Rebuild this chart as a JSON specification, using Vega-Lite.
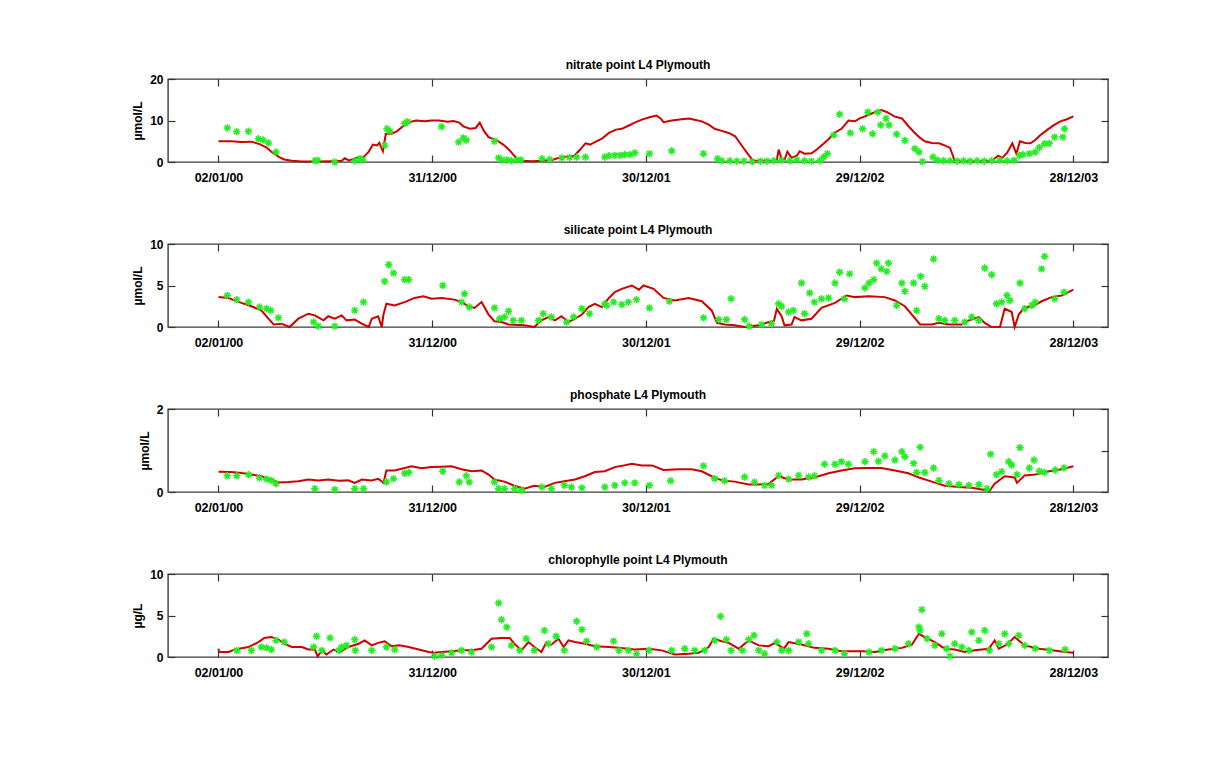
{
  "$schema": "https://vega.github.io/schema/vega-lite/v6.json",
  "background": "white",
  "padding": {"left": 130, "top": 58, "right": 0, "bottom": 0},
  "spacing": 38,
  "datasets": {
    "nitrate_model": [
      {"date":"2000-01-02","value":5.0},{"date":"2000-01-24","value":5.0},{"date":"2000-02-10","value":4.8},{"date":"2000-02-27","value":4.9},{"date":"2000-03-12","value":4.3},{"date":"2000-03-24","value":3.5},{"date":"2000-04-01","value":2.5},{"date":"2000-04-13","value":1.3},{"date":"2000-04-23","value":0.6},{"date":"2000-05-06","value":0.3},{"date":"2000-05-23","value":0.1},{"date":"2000-06-17","value":0.1},{"date":"2000-07-13","value":0.2},{"date":"2000-07-30","value":0.3},{"date":"2000-08-04","value":0.9},{"date":"2000-08-11","value":0.4},{"date":"2000-08-25","value":1.0},{"date":"2000-09-06","value":1.3},{"date":"2000-09-14","value":2.5},{"date":"2000-09-21","value":4.2},{"date":"2000-09-28","value":4.0},{"date":"2000-10-02","value":4.6},{"date":"2000-10-08","value":2.6},{"date":"2000-10-13","value":6.8},{"date":"2000-10-23","value":6.8},{"date":"2000-11-02","value":7.5},{"date":"2000-11-11","value":8.6},{"date":"2000-11-21","value":9.6},{"date":"2000-12-04","value":10.0},{"date":"2000-12-18","value":9.8},{"date":"2000-12-30","value":10.0},{"date":"2001-01-12","value":10.0},{"date":"2001-01-26","value":9.7},{"date":"2001-02-05","value":9.9},{"date":"2001-02-15","value":9.5},{"date":"2001-02-22","value":8.6},{"date":"2001-03-05","value":8.0},{"date":"2001-03-15","value":8.2},{"date":"2001-03-22","value":9.5},{"date":"2001-03-29","value":7.5},{"date":"2001-04-06","value":6.0},{"date":"2001-04-20","value":5.2},{"date":"2001-05-01","value":4.2},{"date":"2001-05-12","value":2.8},{"date":"2001-05-24","value":0.8},{"date":"2001-06-02","value":0.3},{"date":"2001-06-19","value":0.2},{"date":"2001-07-06","value":0.3},{"date":"2001-07-23","value":0.5},{"date":"2001-08-04","value":1.0},{"date":"2001-08-17","value":1.2},{"date":"2001-08-30","value":1.5},{"date":"2001-09-09","value":3.0},{"date":"2001-09-18","value":4.5},{"date":"2001-09-26","value":4.2},{"date":"2001-10-04","value":4.8},{"date":"2001-10-16","value":5.6},{"date":"2001-10-28","value":7.0},{"date":"2001-11-09","value":7.8},{"date":"2001-11-19","value":8.0},{"date":"2001-12-01","value":8.8},{"date":"2001-12-11","value":9.5},{"date":"2001-12-23","value":10.2},{"date":"2002-01-05","value":10.8},{"date":"2002-01-17","value":11.2},{"date":"2002-01-24","value":10.5},{"date":"2002-01-29","value":9.6},{"date":"2002-02-12","value":10.0},{"date":"2002-03-01","value":10.3},{"date":"2002-03-13","value":10.5},{"date":"2002-03-23","value":10.2},{"date":"2002-04-04","value":9.8},{"date":"2002-04-16","value":9.0},{"date":"2002-04-26","value":8.0},{"date":"2002-05-08","value":7.5},{"date":"2002-05-20","value":7.0},{"date":"2002-05-31","value":6.2},{"date":"2002-06-12","value":3.8},{"date":"2002-06-24","value":1.5},{"date":"2002-07-01","value":0.3},{"date":"2002-07-16","value":0.3},{"date":"2002-08-01","value":0.3},{"date":"2002-08-10","value":0.5},{"date":"2002-08-13","value":3.0},{"date":"2002-08-18","value":0.8},{"date":"2002-08-23","value":0.5},{"date":"2002-08-28","value":2.5},{"date":"2002-09-04","value":1.0},{"date":"2002-09-13","value":1.5},{"date":"2002-09-18","value":2.6},{"date":"2002-09-26","value":2.0},{"date":"2002-10-08","value":2.1},{"date":"2002-10-17","value":3.0},{"date":"2002-10-25","value":4.0},{"date":"2002-11-06","value":5.5},{"date":"2002-11-16","value":7.0},{"date":"2002-11-28","value":8.0},{"date":"2002-12-10","value":10.0},{"date":"2002-12-21","value":9.8},{"date":"2002-12-29","value":10.5},{"date":"2003-01-07","value":11.0},{"date":"2003-01-16","value":11.5},{"date":"2003-01-24","value":12.0},{"date":"2003-02-04","value":12.5},{"date":"2003-02-14","value":12.0},{"date":"2003-02-26","value":11.0},{"date":"2003-03-11","value":10.5},{"date":"2003-03-23","value":8.5},{"date":"2003-04-02","value":7.0},{"date":"2003-04-11","value":5.8},{"date":"2003-04-19","value":5.0},{"date":"2003-05-01","value":4.6},{"date":"2003-05-13","value":4.5},{"date":"2003-05-23","value":4.0},{"date":"2003-06-01","value":3.4},{"date":"2003-06-09","value":0.3},{"date":"2003-06-21","value":0.3},{"date":"2003-07-08","value":0.2},{"date":"2003-07-25","value":0.3},{"date":"2003-08-11","value":0.3},{"date":"2003-08-22","value":1.5},{"date":"2003-08-29","value":1.0},{"date":"2003-09-06","value":2.2},{"date":"2003-09-15","value":4.5},{"date":"2003-09-22","value":2.0},{"date":"2003-09-28","value":5.0},{"date":"2003-10-07","value":4.6},{"date":"2003-10-16","value":4.5},{"date":"2003-10-24","value":5.3},{"date":"2003-11-02","value":6.5},{"date":"2003-11-14","value":7.8},{"date":"2003-11-26","value":9.0},{"date":"2003-12-06","value":9.8},{"date":"2003-12-17","value":10.3},{"date":"2003-12-28","value":11.0}
    ],
    "nitrate_obs": [
      {"date":"2000-01-17","value":8.2},{"date":"2000-02-02","value":7.3},{"date":"2000-02-22","value":7.4},{"date":"2000-03-10","value":5.6},{"date":"2000-03-18","value":5.3},{"date":"2000-03-27","value":4.6},{"date":"2000-04-09","value":2.4},{"date":"2000-06-14","value":0.3},{"date":"2000-06-19","value":0.4},{"date":"2000-07-18","value":0.0},{"date":"2000-08-21","value":0.3},{"date":"2000-08-30","value":0.8},{"date":"2000-09-04","value":0.5},{"date":"2000-10-11","value":4.0},{"date":"2000-10-15","value":8.0},{"date":"2000-10-20","value":7.4},{"date":"2000-11-14","value":9.3},{"date":"2000-11-19","value":9.7},{"date":"2001-01-16","value":8.5},{"date":"2001-02-14","value":4.8},{"date":"2001-02-22","value":5.8},{"date":"2001-02-27","value":5.3},{"date":"2001-04-16","value":5.0},{"date":"2001-04-23","value":1.0},{"date":"2001-04-28","value":0.5},{"date":"2001-05-07","value":0.5},{"date":"2001-05-15","value":0.3},{"date":"2001-05-24","value":0.5},{"date":"2001-05-31","value":0.5},{"date":"2001-07-06","value":0.8},{"date":"2001-07-19","value":0.6},{"date":"2001-08-09","value":1.0},{"date":"2001-08-22","value":1.1},{"date":"2001-09-03","value":1.2},{"date":"2001-09-18","value":1.2},{"date":"2001-10-21","value":1.2},{"date":"2001-10-28","value":1.5},{"date":"2001-11-07","value":1.6},{"date":"2001-11-16","value":1.6},{"date":"2001-11-24","value":1.8},{"date":"2001-12-03","value":1.8},{"date":"2001-12-11","value":2.2},{"date":"2002-01-05","value":2.0},{"date":"2002-02-12","value":2.7},{"date":"2002-04-07","value":2.0},{"date":"2002-05-01","value":0.8},{"date":"2002-05-08","value":0.3},{"date":"2002-05-22","value":0.3},{"date":"2002-06-03","value":0.2},{"date":"2002-06-15","value":0.2},{"date":"2002-06-29","value":0.1},{"date":"2002-07-13","value":0.2},{"date":"2002-07-24","value":0.2},{"date":"2002-08-05","value":0.3},{"date":"2002-08-18","value":0.4},{"date":"2002-09-01","value":0.3},{"date":"2002-09-13","value":0.5},{"date":"2002-09-26","value":0.3},{"date":"2002-10-08","value":0.2},{"date":"2002-10-22","value":0.3},{"date":"2002-10-29","value":1.2},{"date":"2002-11-04","value":2.0},{"date":"2002-11-15","value":6.5},{"date":"2002-11-25","value":11.5},{"date":"2002-12-13","value":7.0},{"date":"2003-01-03","value":8.0},{"date":"2003-01-12","value":12.0},{"date":"2003-01-20","value":6.8},{"date":"2003-01-29","value":12.0},{"date":"2003-02-03","value":8.9},{"date":"2003-02-12","value":10.5},{"date":"2003-02-17","value":8.9},{"date":"2003-03-02","value":6.7},{"date":"2003-03-16","value":5.2},{"date":"2003-04-02","value":3.2},{"date":"2003-04-09","value":2.4},{"date":"2003-04-15","value":0.1},{"date":"2003-05-03","value":1.2},{"date":"2003-05-11","value":0.4},{"date":"2003-05-21","value":0.3},{"date":"2003-06-01","value":0.3},{"date":"2003-06-13","value":0.2},{"date":"2003-06-24","value":0.3},{"date":"2003-07-05","value":0.2},{"date":"2003-07-17","value":0.3},{"date":"2003-07-29","value":0.2},{"date":"2003-08-11","value":0.3},{"date":"2003-08-25","value":0.4},{"date":"2003-09-06","value":0.3},{"date":"2003-09-18","value":0.4},{"date":"2003-09-27","value":1.6},{"date":"2003-10-03","value":1.8},{"date":"2003-10-14","value":2.0},{"date":"2003-10-24","value":2.4},{"date":"2003-10-31","value":3.5},{"date":"2003-11-09","value":4.4},{"date":"2003-11-17","value":4.5},{"date":"2003-11-26","value":6.0},{"date":"2003-12-10","value":6.0},{"date":"2003-12-13","value":8.0}
    ],
    "silicate_model": [
      {"date":"2000-01-02","value":3.6},{"date":"2000-01-19","value":3.5},{"date":"2000-02-10","value":2.9},{"date":"2000-02-27","value":2.5},{"date":"2000-03-15","value":2.0},{"date":"2000-03-27","value":1.0},{"date":"2000-04-05","value":0.3},{"date":"2000-04-18","value":0.4},{"date":"2000-05-02","value":0.0},{"date":"2000-05-17","value":1.0},{"date":"2000-06-03","value":1.6},{"date":"2000-06-14","value":1.4},{"date":"2000-06-29","value":0.8},{"date":"2000-07-07","value":1.3},{"date":"2000-07-18","value":1.0},{"date":"2000-07-30","value":1.4},{"date":"2000-08-07","value":0.8},{"date":"2000-08-21","value":0.9},{"date":"2000-09-02","value":0.4},{"date":"2000-09-14","value":0.0},{"date":"2000-09-19","value":1.0},{"date":"2000-09-30","value":1.3},{"date":"2000-10-06","value":0.0},{"date":"2000-10-09","value":1.5},{"date":"2000-10-14","value":2.8},{"date":"2000-10-28","value":2.6},{"date":"2000-11-14","value":3.0},{"date":"2000-12-01","value":3.5},{"date":"2000-12-16","value":3.7},{"date":"2000-12-30","value":3.4},{"date":"2001-01-16","value":3.5},{"date":"2001-02-07","value":3.3},{"date":"2001-02-19","value":3.0},{"date":"2001-03-03","value":2.5},{"date":"2001-03-13","value":2.3},{"date":"2001-03-25","value":3.0},{"date":"2001-04-06","value":1.5},{"date":"2001-04-16","value":0.7},{"date":"2001-04-28","value":0.6},{"date":"2001-05-10","value":0.3},{"date":"2001-06-06","value":0.2},{"date":"2001-06-23","value":0.0},{"date":"2001-07-05","value":0.8},{"date":"2001-07-17","value":1.2},{"date":"2001-07-28","value":0.8},{"date":"2001-08-08","value":1.3},{"date":"2001-08-20","value":0.6},{"date":"2001-08-31","value":1.0},{"date":"2001-09-12","value":1.5},{"date":"2001-09-23","value":2.4},{"date":"2001-10-04","value":2.8},{"date":"2001-10-16","value":2.4},{"date":"2001-10-28","value":3.5},{"date":"2001-11-07","value":4.2},{"date":"2001-11-19","value":4.6},{"date":"2001-12-06","value":5.0},{"date":"2001-12-18","value":4.5},{"date":"2001-12-26","value":5.0},{"date":"2002-01-12","value":4.6},{"date":"2002-01-29","value":3.5},{"date":"2002-02-17","value":3.2},{"date":"2002-03-13","value":3.5},{"date":"2002-04-04","value":3.1},{"date":"2002-04-21","value":2.0},{"date":"2002-04-30","value":0.5},{"date":"2002-05-13","value":0.3},{"date":"2002-05-30","value":0.2},{"date":"2002-06-16","value":0.0},{"date":"2002-07-10","value":0.2},{"date":"2002-07-27","value":0.6},{"date":"2002-08-05","value":0.7},{"date":"2002-08-10","value":2.2},{"date":"2002-08-18","value":1.3},{"date":"2002-08-23","value":0.2},{"date":"2002-09-04","value":0.3},{"date":"2002-09-09","value":1.2},{"date":"2002-09-21","value":0.8},{"date":"2002-10-08","value":1.0},{"date":"2002-10-25","value":2.3},{"date":"2002-11-17","value":2.9},{"date":"2002-12-07","value":3.8},{"date":"2002-12-21","value":3.6},{"date":"2003-01-14","value":3.7},{"date":"2003-02-10","value":3.6},{"date":"2003-02-27","value":3.2},{"date":"2003-03-16","value":2.5},{"date":"2003-03-28","value":1.5},{"date":"2003-04-11","value":0.3},{"date":"2003-05-01","value":0.3},{"date":"2003-05-13","value":0.5},{"date":"2003-05-30","value":0.3},{"date":"2003-06-21","value":0.3},{"date":"2003-07-03","value":0.8},{"date":"2003-07-20","value":1.2},{"date":"2003-07-30","value":0.5},{"date":"2003-08-11","value":0.0},{"date":"2003-08-25","value":0.0},{"date":"2003-09-02","value":2.2},{"date":"2003-09-14","value":1.8},{"date":"2003-09-19","value":0.0},{"date":"2003-09-26","value":1.5},{"date":"2003-10-06","value":2.4},{"date":"2003-10-18","value":2.4},{"date":"2003-11-04","value":3.1},{"date":"2003-11-21","value":3.6},{"date":"2003-12-08","value":3.8},{"date":"2003-12-28","value":4.5}
    ],
    "silicate_obs": [
      {"date":"2000-01-17","value":3.8},{"date":"2000-02-02","value":3.3},{"date":"2000-02-22","value":3.0},{"date":"2000-03-12","value":2.4},{"date":"2000-03-24","value":2.2},{"date":"2000-03-31","value":2.0},{"date":"2000-04-13","value":1.1},{"date":"2000-06-12","value":0.6},{"date":"2000-06-20","value":0.1},{"date":"2000-07-18","value":0.1},{"date":"2000-08-21","value":2.0},{"date":"2000-09-05","value":3.0},{"date":"2000-10-11","value":5.5},{"date":"2000-10-18","value":7.5},{"date":"2000-10-26","value":6.5},{"date":"2000-11-14","value":5.7},{"date":"2000-11-21","value":5.7},{"date":"2001-01-18","value":5.0},{"date":"2001-02-19","value":3.0},{"date":"2001-02-24","value":4.0},{"date":"2001-03-04","value":2.4},{"date":"2001-04-16","value":2.3},{"date":"2001-04-25","value":1.0},{"date":"2001-05-03","value":1.2},{"date":"2001-05-10","value":1.9},{"date":"2001-05-18","value":0.8},{"date":"2001-06-01","value":0.8},{"date":"2001-06-30","value":0.8},{"date":"2001-07-08","value":1.6},{"date":"2001-07-22","value":1.2},{"date":"2001-08-17","value":0.6},{"date":"2001-08-29","value":1.2},{"date":"2001-09-12","value":2.2},{"date":"2001-09-25","value":1.6},{"date":"2001-10-21","value":2.8},{"date":"2001-10-24","value":2.6},{"date":"2001-11-05","value":3.0},{"date":"2001-11-19","value":2.7},{"date":"2001-11-30","value":3.0},{"date":"2001-12-14","value":3.3},{"date":"2002-01-05","value":2.3},{"date":"2002-02-08","value":3.1},{"date":"2002-04-07","value":1.1},{"date":"2002-05-03","value":0.9},{"date":"2002-05-16","value":0.9},{"date":"2002-05-24","value":3.4},{"date":"2002-06-16","value":0.9},{"date":"2002-06-24","value":0.1},{"date":"2002-07-15","value":0.3},{"date":"2002-08-01","value":0.4},{"date":"2002-08-13","value":2.8},{"date":"2002-08-18","value":2.5},{"date":"2002-08-30","value":1.8},{"date":"2002-09-07","value":2.0},{"date":"2002-09-21","value":5.3},{"date":"2002-09-26","value":1.6},{"date":"2002-10-05","value":4.1},{"date":"2002-10-13","value":3.0},{"date":"2002-10-25","value":3.4},{"date":"2002-11-06","value":3.5},{"date":"2002-11-17","value":5.3},{"date":"2002-11-25","value":6.6},{"date":"2002-12-03","value":3.4},{"date":"2002-12-12","value":6.4},{"date":"2003-01-07","value":4.7},{"date":"2003-01-14","value":5.3},{"date":"2003-01-22","value":5.7},{"date":"2003-01-27","value":7.7},{"date":"2003-02-04","value":7.0},{"date":"2003-02-13","value":6.7},{"date":"2003-02-16","value":7.7},{"date":"2003-03-02","value":2.6},{"date":"2003-03-11","value":5.3},{"date":"2003-03-16","value":4.3},{"date":"2003-03-31","value":5.3},{"date":"2003-04-05","value":2.0},{"date":"2003-04-12","value":6.1},{"date":"2003-04-19","value":4.9},{"date":"2003-05-04","value":8.2},{"date":"2003-05-13","value":1.0},{"date":"2003-05-23","value":0.8},{"date":"2003-06-09","value":0.8},{"date":"2003-06-26","value":0.6},{"date":"2003-07-08","value":1.2},{"date":"2003-07-20","value":0.8},{"date":"2003-07-30","value":7.1},{"date":"2003-08-11","value":6.3},{"date":"2003-08-19","value":2.8},{"date":"2003-08-28","value":3.0},{"date":"2003-09-06","value":3.8},{"date":"2003-09-11","value":3.2},{"date":"2003-09-28","value":5.3},{"date":"2003-10-06","value":2.2},{"date":"2003-10-18","value":2.6},{"date":"2003-10-24","value":3.0},{"date":"2003-11-04","value":7.0},{"date":"2003-11-09","value":8.5},{"date":"2003-11-26","value":3.4},{"date":"2003-12-12","value":4.2}
    ],
    "phosphate_model": [
      {"date":"2000-01-02","value":0.49},{"date":"2000-01-24","value":0.48},{"date":"2000-02-10","value":0.46},{"date":"2000-02-27","value":0.42},{"date":"2000-03-15","value":0.38},{"date":"2000-04-01","value":0.30},{"date":"2000-04-13","value":0.23},{"date":"2000-04-30","value":0.24},{"date":"2000-05-17","value":0.26},{"date":"2000-06-03","value":0.30},{"date":"2000-06-20","value":0.28},{"date":"2000-07-07","value":0.30},{"date":"2000-07-25","value":0.27},{"date":"2000-08-10","value":0.28},{"date":"2000-08-21","value":0.22},{"date":"2000-09-02","value":0.30},{"date":"2000-09-19","value":0.28},{"date":"2000-09-30","value":0.32},{"date":"2000-10-09","value":0.22},{"date":"2000-10-14","value":0.52},{"date":"2000-10-28","value":0.52},{"date":"2000-11-14","value":0.58},{"date":"2000-11-26","value":0.62},{"date":"2000-12-13","value":0.57},{"date":"2000-12-30","value":0.60},{"date":"2001-01-16","value":0.61},{"date":"2001-02-02","value":0.62},{"date":"2001-02-19","value":0.55},{"date":"2001-03-08","value":0.50},{"date":"2001-03-25","value":0.52},{"date":"2001-04-06","value":0.42},{"date":"2001-04-16","value":0.30},{"date":"2001-05-03","value":0.25},{"date":"2001-05-20","value":0.15},{"date":"2001-06-06","value":0.08},{"date":"2001-06-23","value":0.15},{"date":"2001-07-10","value":0.12},{"date":"2001-07-28","value":0.22},{"date":"2001-08-13","value":0.26},{"date":"2001-08-31","value":0.30},{"date":"2001-09-17","value":0.38},{"date":"2001-10-04","value":0.48},{"date":"2001-10-21","value":0.50},{"date":"2001-11-07","value":0.60},{"date":"2001-11-19","value":0.63},{"date":"2001-12-06","value":0.68},{"date":"2001-12-23","value":0.64},{"date":"2002-01-09","value":0.64},{"date":"2002-01-29","value":0.53},{"date":"2002-02-24","value":0.55},{"date":"2002-03-18","value":0.55},{"date":"2002-04-04","value":0.50},{"date":"2002-04-21","value":0.38},{"date":"2002-05-08","value":0.28},{"date":"2002-05-30","value":0.25},{"date":"2002-06-23","value":0.18},{"date":"2002-07-10","value":0.18},{"date":"2002-07-27","value":0.20},{"date":"2002-08-13","value":0.38},{"date":"2002-08-30","value":0.30},{"date":"2002-09-21","value":0.30},{"date":"2002-10-13","value":0.35},{"date":"2002-11-06","value":0.45},{"date":"2002-11-28","value":0.52},{"date":"2002-12-21","value":0.57},{"date":"2003-01-14","value":0.58},{"date":"2003-02-04","value":0.58},{"date":"2003-02-27","value":0.52},{"date":"2003-03-22","value":0.45},{"date":"2003-04-09","value":0.35},{"date":"2003-05-01","value":0.25},{"date":"2003-05-23","value":0.15},{"date":"2003-06-16","value":0.12},{"date":"2003-07-08","value":0.10},{"date":"2003-07-30","value":0.05},{"date":"2003-08-07","value":0.02},{"date":"2003-08-16","value":0.20},{"date":"2003-09-02","value":0.38},{"date":"2003-09-19","value":0.35},{"date":"2003-09-23","value":0.22},{"date":"2003-10-06","value":0.40},{"date":"2003-10-24","value":0.42},{"date":"2003-11-17","value":0.50},{"date":"2003-12-08","value":0.55},{"date":"2003-12-28","value":0.62}
    ],
    "phosphate_obs": [
      {"date":"2000-01-17","value":0.39},{"date":"2000-02-02","value":0.39},{"date":"2000-02-22","value":0.42},{"date":"2000-03-12","value":0.34},{"date":"2000-03-24","value":0.31},{"date":"2000-04-01","value":0.28},{"date":"2000-04-09","value":0.20},{"date":"2000-06-14","value":0.08},{"date":"2000-07-18","value":0.06},{"date":"2000-08-21","value":0.08},{"date":"2000-09-05","value":0.08},{"date":"2000-10-14","value":0.24},{"date":"2000-10-26","value":0.32},{"date":"2000-11-14","value":0.45},{"date":"2000-11-21","value":0.47},{"date":"2001-01-18","value":0.50},{"date":"2001-02-15","value":0.24},{"date":"2001-02-27","value":0.39},{"date":"2001-03-04","value":0.24},{"date":"2001-04-16","value":0.24},{"date":"2001-04-23","value":0.08},{"date":"2001-05-03","value":0.08},{"date":"2001-05-20","value":0.08},{"date":"2001-06-01","value":0.04},{"date":"2001-07-06","value":0.12},{"date":"2001-07-22","value":0.08},{"date":"2001-08-13","value":0.16},{"date":"2001-08-25","value":0.12},{"date":"2001-09-12","value":0.10},{"date":"2001-10-21","value":0.12},{"date":"2001-11-07","value":0.16},{"date":"2001-11-24","value":0.22},{"date":"2001-12-11","value":0.22},{"date":"2002-01-05","value":0.16},{"date":"2002-02-10","value":0.27},{"date":"2002-04-07","value":0.63},{"date":"2002-04-26","value":0.32},{"date":"2002-05-13","value":0.27},{"date":"2002-06-16","value":0.36},{"date":"2002-07-03","value":0.24},{"date":"2002-07-20","value":0.16},{"date":"2002-08-01","value":0.16},{"date":"2002-08-13","value":0.40},{"date":"2002-08-30","value":0.31},{"date":"2002-09-16","value":0.40},{"date":"2002-10-03","value":0.36},{"date":"2002-10-13","value":0.39},{"date":"2002-10-30","value":0.67},{"date":"2002-11-17","value":0.67},{"date":"2002-11-28","value":0.73},{"date":"2002-12-10","value":0.67},{"date":"2003-01-07","value":0.73},{"date":"2003-01-22","value":0.97},{"date":"2003-01-30","value":0.74},{"date":"2003-02-10","value":0.87},{"date":"2003-02-27","value":0.77},{"date":"2003-03-11","value":0.97},{"date":"2003-03-16","value":0.85},{"date":"2003-03-31","value":0.69},{"date":"2003-04-05","value":0.47},{"date":"2003-04-11","value":1.08},{"date":"2003-04-19","value":0.47},{"date":"2003-05-04","value":0.58},{"date":"2003-05-13","value":0.28},{"date":"2003-05-30","value":0.20},{"date":"2003-06-16","value":0.18},{"date":"2003-07-03","value":0.16},{"date":"2003-07-20","value":0.18},{"date":"2003-08-03","value":0.08},{"date":"2003-08-09","value":0.91},{"date":"2003-08-19","value":0.42},{"date":"2003-08-28","value":0.49},{"date":"2003-09-09","value":0.73},{"date":"2003-09-14","value":0.65},{"date":"2003-09-23","value":0.42},{"date":"2003-09-28","value":1.07},{"date":"2003-10-14","value":0.58},{"date":"2003-10-22","value":0.77},{"date":"2003-10-31","value":0.50},{"date":"2003-11-09","value":0.47},{"date":"2003-11-27","value":0.53},{"date":"2003-12-12","value":0.58}
    ],
    "chl_model": [
      {"date":"2000-01-02","value":1.0},{"date":"2000-01-03","value":0.6},{"date":"2000-01-19","value":0.6},{"date":"2000-01-30","value":0.9},{"date":"2000-02-22","value":1.2},{"date":"2000-03-10","value":1.8},{"date":"2000-03-20","value":2.3},{"date":"2000-04-01","value":2.4},{"date":"2000-04-13","value":2.1},{"date":"2000-04-23","value":1.6},{"date":"2000-05-06","value":1.2},{"date":"2000-05-23","value":1.2},{"date":"2000-06-03","value":0.9},{"date":"2000-06-14","value":0.9},{"date":"2000-06-19","value":0.1},{"date":"2000-06-26","value":0.8},{"date":"2000-07-04","value":0.3},{"date":"2000-07-16","value":0.9},{"date":"2000-07-26","value":0.6},{"date":"2000-08-10","value":1.2},{"date":"2000-08-28","value":1.6},{"date":"2000-09-07","value":2.0},{"date":"2000-09-19","value":1.4},{"date":"2000-09-30","value":1.7},{"date":"2000-10-11","value":1.9},{"date":"2000-10-23","value":1.3},{"date":"2000-11-05","value":1.4},{"date":"2000-11-21","value":1.2},{"date":"2000-12-08","value":0.9},{"date":"2000-12-25","value":0.6},{"date":"2001-01-02","value":0.5},{"date":"2001-01-16","value":0.6},{"date":"2001-02-02","value":0.7},{"date":"2001-02-19","value":0.8},{"date":"2001-03-08","value":0.8},{"date":"2001-03-25","value":1.0},{"date":"2001-04-11","value":2.2},{"date":"2001-04-28","value":2.3},{"date":"2001-05-12","value":2.3},{"date":"2001-05-20","value":1.6},{"date":"2001-06-01","value":0.8},{"date":"2001-06-13","value":1.8},{"date":"2001-06-23","value":1.2},{"date":"2001-07-05","value":0.6},{"date":"2001-07-13","value":1.7},{"date":"2001-07-22","value":1.5},{"date":"2001-08-03","value":2.2},{"date":"2001-08-12","value":1.2},{"date":"2001-08-20","value":2.0},{"date":"2001-08-31","value":1.8},{"date":"2001-09-17","value":1.6},{"date":"2001-10-04","value":1.3},{"date":"2001-10-28","value":1.2},{"date":"2001-11-14","value":1.1},{"date":"2001-12-11","value":0.9},{"date":"2002-01-04","value":1.0},{"date":"2002-01-26","value":0.8},{"date":"2002-02-17","value":0.3},{"date":"2002-03-13","value":0.4},{"date":"2002-03-30","value":0.5},{"date":"2002-04-16","value":1.2},{"date":"2002-04-24","value":2.2},{"date":"2002-05-08","value":1.9},{"date":"2002-05-20","value":1.7},{"date":"2002-06-06","value":1.0},{"date":"2002-06-23","value":2.0},{"date":"2002-07-10","value":1.4},{"date":"2002-07-27","value":1.3},{"date":"2002-08-07","value":1.7},{"date":"2002-08-22","value":1.0},{"date":"2002-08-30","value":1.8},{"date":"2002-09-21","value":1.5},{"date":"2002-10-13","value":1.1},{"date":"2002-11-06","value":1.0},{"date":"2002-11-28","value":0.7},{"date":"2003-01-02","value":0.7},{"date":"2003-01-24","value":0.6},{"date":"2003-02-16","value":0.9},{"date":"2003-03-11","value":1.1},{"date":"2003-03-28","value":1.5},{"date":"2003-04-09","value":2.8},{"date":"2003-04-19","value":2.4},{"date":"2003-05-06","value":1.8},{"date":"2003-05-23","value":1.0},{"date":"2003-06-09","value":0.9},{"date":"2003-06-26","value":0.6},{"date":"2003-07-13","value":0.8},{"date":"2003-08-06","value":1.0},{"date":"2003-08-16","value":2.0},{"date":"2003-08-23","value":1.0},{"date":"2003-09-06","value":1.5},{"date":"2003-09-19","value":2.4},{"date":"2003-10-06","value":1.4},{"date":"2003-10-31","value":1.0},{"date":"2003-11-21","value":0.8},{"date":"2003-12-14","value":0.6},{"date":"2003-12-28","value":0.5}
    ],
    "chl_obs": [
      {"date":"2000-02-02","value":0.8},{"date":"2000-02-27","value":0.8},{"date":"2000-03-15","value":1.2},{"date":"2000-03-24","value":1.1},{"date":"2000-04-01","value":0.9},{"date":"2000-04-09","value":2.0},{"date":"2000-04-23","value":1.8},{"date":"2000-06-12","value":1.2},{"date":"2000-06-17","value":2.5},{"date":"2000-06-26","value":0.8},{"date":"2000-07-10","value":2.3},{"date":"2000-07-25","value":0.8},{"date":"2000-07-30","value":1.2},{"date":"2000-08-07","value":1.4},{"date":"2000-08-21","value":2.1},{"date":"2000-08-22","value":0.8},{"date":"2000-09-19","value":0.8},{"date":"2000-10-14","value":1.2},{"date":"2000-10-28","value":0.9},{"date":"2001-01-04","value":0.1},{"date":"2001-01-16","value":0.2},{"date":"2001-02-02","value":0.5},{"date":"2001-02-19","value":0.8},{"date":"2001-03-08","value":0.6},{"date":"2001-04-11","value":1.2},{"date":"2001-04-23","value":6.5},{"date":"2001-04-28","value":4.5},{"date":"2001-05-07","value":3.6},{"date":"2001-05-15","value":1.4},{"date":"2001-05-29","value":0.8},{"date":"2001-06-09","value":2.2},{"date":"2001-06-23","value":0.8},{"date":"2001-07-10","value":3.2},{"date":"2001-07-17","value":1.6},{"date":"2001-07-30","value":2.5},{"date":"2001-08-13","value":0.8},{"date":"2001-09-03","value":4.3},{"date":"2001-09-12","value":3.3},{"date":"2001-09-20","value":1.9},{"date":"2001-10-07","value":1.2},{"date":"2001-11-05","value":1.9},{"date":"2001-11-14","value":0.8},{"date":"2001-11-30","value":0.8},{"date":"2001-12-14","value":0.4},{"date":"2002-01-04","value":0.8},{"date":"2002-02-12","value":0.8},{"date":"2002-03-06","value":1.0},{"date":"2002-03-23","value":0.8},{"date":"2002-04-09","value":0.8},{"date":"2002-04-26","value":2.0},{"date":"2002-05-06","value":4.9},{"date":"2002-05-16","value":2.1},{"date":"2002-05-24","value":0.8},{"date":"2002-06-12","value":0.8},{"date":"2002-06-23","value":2.1},{"date":"2002-07-02","value":2.6},{"date":"2002-07-10","value":0.8},{"date":"2002-07-20","value":0.4},{"date":"2002-08-10","value":1.8},{"date":"2002-08-18","value":0.8},{"date":"2002-08-30","value":0.8},{"date":"2002-09-16","value":1.8},{"date":"2002-09-30","value":2.8},{"date":"2002-10-03","value":1.6},{"date":"2002-10-25","value":0.8},{"date":"2002-11-17","value":0.8},{"date":"2002-12-03","value":0.4},{"date":"2003-01-14","value":0.6},{"date":"2003-02-04","value":0.8},{"date":"2003-02-27","value":1.0},{"date":"2003-03-22","value":1.6},{"date":"2003-04-09","value":3.6},{"date":"2003-04-11","value":3.2},{"date":"2003-04-14","value":5.7},{"date":"2003-04-23","value":2.2},{"date":"2003-05-06","value":1.4},{"date":"2003-05-18","value":2.8},{"date":"2003-05-26","value":1.0},{"date":"2003-06-01","value":0.1},{"date":"2003-06-09","value":1.6},{"date":"2003-06-21","value":1.2},{"date":"2003-07-03","value":0.8},{"date":"2003-07-08","value":3.0},{"date":"2003-07-20","value":2.0},{"date":"2003-07-30","value":3.2},{"date":"2003-08-07","value":0.8},{"date":"2003-08-23","value":1.6},{"date":"2003-09-02","value":2.8},{"date":"2003-09-09","value":1.6},{"date":"2003-09-26","value":2.6},{"date":"2003-10-06","value":1.4},{"date":"2003-10-24","value":1.0},{"date":"2003-11-17","value":0.8},{"date":"2003-12-14","value":0.9}
    ]
  },
  "vconcat": [
    {
      "width": 940, "height": 83,
      "title": "nitrate point L4 Plymouth",
      "layer": [
        {"data": {"name": "nitrate_model"}, "mark": {"type": "line", "color": "#d00000", "strokeWidth": 2},
         "encoding": {
           "x": {"field": "date", "type": "temporal", "scale": {"type": "utc", "domain": [{"year": 1999, "month": 10, "date": 8, "utc": true}, {"year": 2004, "month": 2, "date": 25, "utc": true}]},
                 "axis": {"orient": "bottom", "values": [{"year": 2000, "month": 1, "date": 2, "utc": true}, {"year": 2000, "month": 12, "date": 31, "utc": true}, {"year": 2001, "month": 12, "date": 30, "utc": true}, {"year": 2002, "month": 12, "date": 29, "utc": true}, {"year": 2003, "month": 12, "date": 28, "utc": true}], "format": "%d/%m/%y", "title": null}},
           "y": {"field": "value", "type": "quantitative", "scale": {"domain": [0, 20]}, "axis": {"orient": "left", "values": [0, 10, 20], "format": "d", "title": "µmol/L"}}
         }},
        {"data": {"name": "nitrate_obs"}, "mark": {"type": "point", "shape": "M0,-1L0,1M-1,0L1,0M-0.7,-0.7L0.7,0.7M-0.7,0.7L0.7,-0.7", "filled": false, "color": "#22ee22", "size": 55, "strokeWidth": 1.5, "opacity": 1},
         "encoding": {
           "x": {"field": "date", "type": "temporal", "axis": {"orient": "top", "labels": false, "title": null, "values": [{"year": 2000, "month": 1, "date": 2, "utc": true}, {"year": 2000, "month": 12, "date": 31, "utc": true}, {"year": 2001, "month": 12, "date": 30, "utc": true}, {"year": 2002, "month": 12, "date": 29, "utc": true}, {"year": 2003, "month": 12, "date": 28, "utc": true}]}},
           "y": {"field": "value", "type": "quantitative", "axis": {"orient": "right", "labels": false, "title": null, "values": [0, 10, 20]}}
         }}
      ],
      "resolve": {"axis": {"x": "independent", "y": "independent"}}
    },
    {
      "width": 940, "height": 83,
      "title": "silicate point L4 Plymouth",
      "layer": [
        {"data": {"name": "silicate_model"}, "mark": {"type": "line", "color": "#d00000", "strokeWidth": 2},
         "encoding": {
           "x": {"field": "date", "type": "temporal", "scale": {"type": "utc", "domain": [{"year": 1999, "month": 10, "date": 8, "utc": true}, {"year": 2004, "month": 2, "date": 25, "utc": true}]},
                 "axis": {"orient": "bottom", "values": [{"year": 2000, "month": 1, "date": 2, "utc": true}, {"year": 2000, "month": 12, "date": 31, "utc": true}, {"year": 2001, "month": 12, "date": 30, "utc": true}, {"year": 2002, "month": 12, "date": 29, "utc": true}, {"year": 2003, "month": 12, "date": 28, "utc": true}], "format": "%d/%m/%y", "title": null}},
           "y": {"field": "value", "type": "quantitative", "scale": {"domain": [0, 10]}, "axis": {"orient": "left", "values": [0, 5, 10], "format": "d", "title": "µmol/L"}}
         }},
        {"data": {"name": "silicate_obs"}, "mark": {"type": "point", "shape": "M0,-1L0,1M-1,0L1,0M-0.7,-0.7L0.7,0.7M-0.7,0.7L0.7,-0.7", "filled": false, "color": "#22ee22", "size": 55, "strokeWidth": 1.5, "opacity": 1},
         "encoding": {
           "x": {"field": "date", "type": "temporal", "axis": {"orient": "top", "labels": false, "title": null, "values": [{"year": 2000, "month": 1, "date": 2, "utc": true}, {"year": 2000, "month": 12, "date": 31, "utc": true}, {"year": 2001, "month": 12, "date": 30, "utc": true}, {"year": 2002, "month": 12, "date": 29, "utc": true}, {"year": 2003, "month": 12, "date": 28, "utc": true}]}},
           "y": {"field": "value", "type": "quantitative", "axis": {"orient": "right", "labels": false, "title": null, "values": [0, 5, 10]}}
         }}
      ],
      "resolve": {"axis": {"x": "independent", "y": "independent"}}
    },
    {
      "width": 940, "height": 83,
      "title": "phosphate L4 Plymouth",
      "layer": [
        {"data": {"name": "phosphate_model"}, "mark": {"type": "line", "color": "#d00000", "strokeWidth": 2},
         "encoding": {
           "x": {"field": "date", "type": "temporal", "scale": {"type": "utc", "domain": [{"year": 1999, "month": 10, "date": 8, "utc": true}, {"year": 2004, "month": 2, "date": 25, "utc": true}]},
                 "axis": {"orient": "bottom", "values": [{"year": 2000, "month": 1, "date": 2, "utc": true}, {"year": 2000, "month": 12, "date": 31, "utc": true}, {"year": 2001, "month": 12, "date": 30, "utc": true}, {"year": 2002, "month": 12, "date": 29, "utc": true}, {"year": 2003, "month": 12, "date": 28, "utc": true}], "format": "%d/%m/%y", "title": null}},
           "y": {"field": "value", "type": "quantitative", "scale": {"domain": [0, 2]}, "axis": {"orient": "left", "values": [0, 1, 2], "format": "d", "title": "µmol/L"}}
         }},
        {"data": {"name": "phosphate_obs"}, "mark": {"type": "point", "shape": "M0,-1L0,1M-1,0L1,0M-0.7,-0.7L0.7,0.7M-0.7,0.7L0.7,-0.7", "filled": false, "color": "#22ee22", "size": 55, "strokeWidth": 1.5, "opacity": 1},
         "encoding": {
           "x": {"field": "date", "type": "temporal", "axis": {"orient": "top", "labels": false, "title": null, "values": [{"year": 2000, "month": 1, "date": 2, "utc": true}, {"year": 2000, "month": 12, "date": 31, "utc": true}, {"year": 2001, "month": 12, "date": 30, "utc": true}, {"year": 2002, "month": 12, "date": 29, "utc": true}, {"year": 2003, "month": 12, "date": 28, "utc": true}]}},
           "y": {"field": "value", "type": "quantitative", "axis": {"orient": "right", "labels": false, "title": null, "values": [0, 1, 2]}}
         }}
      ],
      "resolve": {"axis": {"x": "independent", "y": "independent"}}
    },
    {
      "width": 940, "height": 83,
      "title": "chlorophylle point L4 Plymouth",
      "layer": [
        {"data": {"name": "chl_model"}, "mark": {"type": "line", "color": "#d00000", "strokeWidth": 2},
         "encoding": {
           "x": {"field": "date", "type": "temporal", "scale": {"type": "utc", "domain": [{"year": 1999, "month": 10, "date": 8, "utc": true}, {"year": 2004, "month": 2, "date": 25, "utc": true}]},
                 "axis": {"orient": "bottom", "values": [{"year": 2000, "month": 1, "date": 2, "utc": true}, {"year": 2000, "month": 12, "date": 31, "utc": true}, {"year": 2001, "month": 12, "date": 30, "utc": true}, {"year": 2002, "month": 12, "date": 29, "utc": true}, {"year": 2003, "month": 12, "date": 28, "utc": true}], "format": "%d/%m/%y", "title": null}},
           "y": {"field": "value", "type": "quantitative", "scale": {"domain": [0, 10]}, "axis": {"orient": "left", "values": [0, 5, 10], "format": "d", "title": "µg/L"}}
         }},
        {"data": {"name": "chl_obs"}, "mark": {"type": "point", "shape": "M0,-1L0,1M-1,0L1,0M-0.7,-0.7L0.7,0.7M-0.7,0.7L0.7,-0.7", "filled": false, "color": "#22ee22", "size": 55, "strokeWidth": 1.5, "opacity": 1},
         "encoding": {
           "x": {"field": "date", "type": "temporal", "axis": {"orient": "top", "labels": false, "title": null, "values": [{"year": 2000, "month": 1, "date": 2, "utc": true}, {"year": 2000, "month": 12, "date": 31, "utc": true}, {"year": 2001, "month": 12, "date": 30, "utc": true}, {"year": 2002, "month": 12, "date": 29, "utc": true}, {"year": 2003, "month": 12, "date": 28, "utc": true}]}},
           "y": {"field": "value", "type": "quantitative", "axis": {"orient": "right", "labels": false, "title": null, "values": [0, 5, 10]}}
         }}
      ],
      "resolve": {"axis": {"x": "independent", "y": "independent"}}
    }
  ],
  "config": {
    "font": "Liberation Sans",
    "view": {"stroke": "#3c3c3c", "strokeWidth": 1.4},
    "title": {"font": "Liberation Sans", "fontSize": 12, "fontWeight": "bold", "color": "black", "anchor": "middle", "offset": 1},
    "axis": {"domain": false, "grid": false, "tickColor": "#333333", "tickSize": -7, "tickWidth": 1.2,
             "labelFont": "Liberation Sans", "labelFontSize": 12, "labelFontWeight": "bold", "labelColor": "black",
             "titleFont": "Liberation Sans", "titleFontSize": 12, "titleFontWeight": "bold", "titleColor": "black"},
    "axisBottom": {"labelPadding": 16, "labelFontSize": 12.5},
    "axisLeft": {"labelPadding": 12, "titlePadding": 5}
  }
}
